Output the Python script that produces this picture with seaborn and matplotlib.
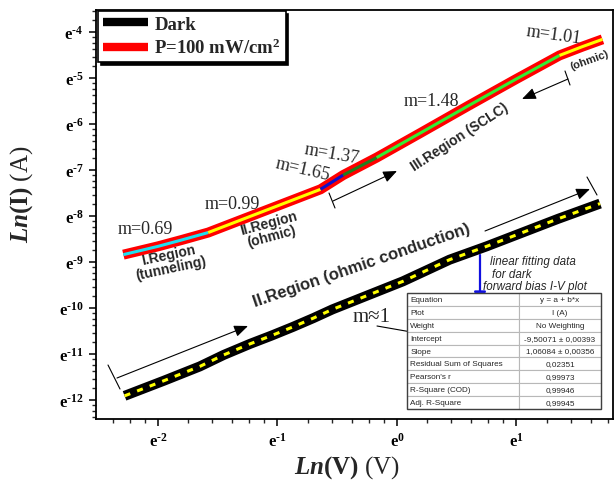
import numpy as np
import pandas as pd
import seaborn as sns
import matplotlib.pyplot as plt
from matplotlib.lines import Line2D
from matplotlib.patches import Rectangle

# ---- data (natural-log units) ----
dark_lnv = [-2.28, -1.95, -1.65, -1.45, -1.23, -1.05, -0.87, -0.70, -0.54, -0.25,
            0.05, 0.44, 0.75, 1.03, 1.35, 1.70]
dark_lni = [-11.91, -11.58, -11.27, -11.02, -10.78, -10.60, -10.41, -10.22, -10.03, -9.73,
            -9.42, -8.95, -8.66, -8.38, -8.06, -7.73]

# illuminated curve, one list per fitted region
r1_lnv = [-2.29, -2.00, -1.80, -1.58]
r1_lni = [-8.84, -8.66, -8.52, -8.36]
r2_lnv = [-1.58, -1.30, -1.00, -0.80, -0.64]
r2_lni = [-8.36, -8.08, -7.78, -7.58, -7.42]
r3a_lnv = [-0.64, -0.45]
r3a_lni = [-7.42, -7.11]
r3b_lnv = [-0.45, -0.17]
r3b_lni = [-7.11, -6.73]
r3c_lnv = [-0.17, 0.20, 0.60, 1.00, 1.36]
r3c_lni = [-6.73, -6.19, -5.60, -5.02, -4.51]
r4_lnv = [1.36, 1.55, 1.72]
r4_lni = [-4.51, -4.32, -4.16]

regions = ['I', 'II', 'IIIa', 'IIIb', 'IIIc', 'IV']
region_colors = {'I': '#1ee0f0', 'II': '#ffff00', 'IIIa': '#1010c8',
                 'IIIb': '#1f7f1f', 'IIIc': '#33ee33', 'IV': '#ffff00'}

fit_names = ['Equation', 'Plot', 'Weight', 'Intercept', 'Slope',
             'Residual Sum of Squares', "Pearson's r", 'R-Square (COD)', 'Adj. R-Square']
fit_values = ['y = a + b*x', 'I (A)', 'No Weighting', '-9,50071 ± 0,00393',
              '1,06084 ± 0,00356', '0,02351', '0,99973', '0,99946', '0,99945']

x_major = [-2, -1, 0, 1]
y_major = list(range(-12, -3))

dark = pd.DataFrame({'lnv': dark_lnv, 'lni': dark_lni})
photo = pd.concat([
    pd.DataFrame({'lnv': v, 'lni': i, 'region': r})
    for v, i, r in zip([r1_lnv, r2_lnv, r3a_lnv, r3b_lnv, r3c_lnv, r4_lnv],
                       [r1_lni, r2_lni, r3a_lni, r3b_lni, r3c_lni, r4_lni], regions)
], ignore_index=True)

# ---- style ----
sns.set_style('ticks')
plt.rcParams['font.family'] = ['Liberation Serif', 'DejaVu Serif']
plt.rcParams['mathtext.fontset'] = 'custom'
plt.rcParams['mathtext.rm'] = 'Liberation Serif'
plt.rcParams['mathtext.bf'] = 'Liberation Serif:bold'
plt.rcParams['mathtext.it'] = 'Liberation Serif:italic'
plt.rcParams['mathtext.bfit'] = 'Liberation Serif:italic:bold'

W, H = 616, 489
fig = plt.figure(figsize=(W / 100, H / 100), dpi=100)
ax = fig.add_axes([96 / W, 1 - 420 / H, 517 / W, 409 / H])


def fp(x, y):
    return (x / W, 1 - y / H)


def elabel(n):
    if n < 0:
        return r'$\mathbf{e^{\text{-}%d}}$' % (-n)
    return r'$\mathbf{e^{%d}}$' % n


# curves
sns.lineplot(data=dark, x='lnv', y='lni', sort=False, estimator=None, color='black',
             lw=7.2, ax=ax, legend=False, solid_capstyle='butt')
sns.lineplot(data=dark, x='lnv', y='lni', sort=False, estimator=None, color='#ffff00',
             lw=2.2, ax=ax, legend=False, linestyle=(0, (2.0, 2.4)))
sns.lineplot(data=photo, x='lnv', y='lni', sort=False, estimator=None, color='#ff0000',
             lw=7.2, ax=ax, legend=False, solid_capstyle='butt')
sns.lineplot(data=photo, x='lnv', y='lni', hue='region', units='region', sort=False,
             estimator=None, palette=region_colors, lw=2.2, ax=ax, legend=False,
             solid_capstyle='butt')

# axes
ax.set_xlabel('')
ax.set_ylabel('')
ax.set_xticks(x_major)
ax.set_xticklabels([elabel(v) for v in x_major], fontsize=12)
ax.set_yticks(y_major)
ax.set_yticklabels([elabel(v) for v in y_major], fontsize=12)
subs = np.log(1 + np.arange(1, 6) * (np.e - 1) / 6)
ax.set_xticks([n + s for n in range(-3, 2) for s in subs], minor=True)
ax.set_yticks([n + s for n in range(-13, -3) for s in subs], minor=True)
ax.set_xlim(-2.519, 1.808)
ax.set_ylim(-12.413, -3.522)
ax.tick_params(which='major', direction='out', length=5, width=1.1, pad=4, colors='black')
ax.tick_params(which='minor', direction='out', length=3, width=1.0)
ax.tick_params(axis='x', which='major', pad=4)
for s in ax.spines.values():
    s.set_visible(True)
    s.set_linewidth(1.3)
    s.set_color('black')

fig.text(*fp(347, 468), r'$\mathbfit{Ln}\mathbf{(V)}\ \mathrm{(V)}$', ha='center',
         va='center', fontsize=18)
fig.text(*fp(22, 194), r'$\mathbfit{Ln}\mathbf{(I)}\ \mathrm{(A)}$', ha='center',
         va='center', fontsize=18, rotation=90)

# legend
handles = [Line2D([], [], color='black', lw=6, solid_capstyle='butt'),
           Line2D([], [], color='#ff0000', lw=6, solid_capstyle='butt')]
leg = ax.legend(handles, ['Dark', 'P=100 mW/cm$^\\mathbf{2}$'], loc='upper left',
                bbox_to_anchor=(0.004, 0.997), borderaxespad=0, handlelength=2.4,
                frameon=True, fancybox=False, shadow={'color': 'black', 'alpha': 1},
                prop={'weight': 'bold', 'size': 13.5}, borderpad=0.25, labelspacing=0.25,
                handletextpad=0.35)
leg.get_frame().set_edgecolor('black')
leg.get_frame().set_linewidth(1.2)
leg.get_frame().set_alpha(1)

# slope labels
for (x, y), txt, rot in [((145, 229), 'm=0.69', 0), ((232, 205), 'm=0.99', 0),
                         ((303, 170), 'm=1.65', -13), ((332, 154), 'm=1.37', -10),
                         ((431, 101), 'm=1.48', 0), ((554, 35), 'm=1.01', -8)]:
    fig.text(*fp(x, y), txt, ha='center', va='center', fontsize=13, rotation=rot)
fig.text(*fp(372, 318), 'm≈1', ha='center', va='center', fontsize=15)

sans = 'Liberation Sans'
for (x, y), txt, rot, fs in [((170, 262), 'I.Region\n(tunneling)', 12, 10),
                             ((270, 230), 'II.Region\n(ohmic)', 15, 10),
                             ((460, 137), 'III.Region (SCLC)', 33, 10),
                             ((590, 60), '(ohmic)', 20, 8),
                             ((362, 266), 'II.Region (ohmic conduction)', 19, 12)]:
    fig.text(*fp(x, y), txt, ha='center', va='center', fontsize=fs, rotation=rot,
             family=sans, weight='bold', multialignment='center', linespacing=1.0)

fig.text(*fp(490, 262), 'linear fitting data', ha='left', va='center', fontsize=8.4,
         family=sans, style='italic')
fig.text(*fp(492, 275), 'for dark', ha='left', va='center', fontsize=8.4,
         family=sans, style='italic')
fig.text(*fp(483, 287), 'forward bias I-V plot', ha='left', va='center', fontsize=8.4,
         family=sans, style='italic')


def arrow(tail, head, color='black', lw=0.8):
    ax.annotate('', xy=fp(*head), xytext=fp(*tail), xycoords='figure fraction',
                textcoords='figure fraction',
                arrowprops=dict(arrowstyle='-|>,head_length=0.6,head_width=0.25',
                                color=color, lw=lw, shrinkA=0, shrinkB=0,
                                mutation_scale=14))


def bar(p1, p2):
    fig.add_artist(Line2D([p1[0] / W, p2[0] / W], [1 - p1[1] / H, 1 - p2[1] / H],
                          transform=fig.transFigure, color='black', lw=0.8))


arrow((333, 202), (397, 172))
bar((329, 194), (335, 209))
arrow((568, 80), (522, 100))
bar((565, 72), (570, 86))
arrow((117, 379), (248, 327))
bar((108, 366), (120, 390))
arrow((485, 232), (590, 190))
bar((587, 178), (597, 196))
arrow((480, 256), (480, 307), color='#1010e0', lw=1.6)
arrow((377, 327), (520, 352))

# fit table
tab = ax.table(cellText=[[a, b] for a, b in zip(fit_names, fit_values)],
               cellLoc='center', colWidths=[112, 82],
               bbox=[(407 - 96) / 517, (420 - 410) / 409, 194 / 517, 116 / 409])
tab.auto_set_font_size(False)
tab.set_fontsize(5.9)
for (r, c), cell in tab.get_celld().items():
    cell.set_edgecolor('#b8b8b8')
    cell.set_linewidth(0.8)
    cell.get_text().set_family(sans)
    if c == 0:
        cell.get_text().set_horizontalalignment('left')
        cell.PAD = 0.03
tab.set_zorder(5)
ax.add_patch(Rectangle(((407 - 96) / 517, (420 - 410) / 409), 194 / 517, 116 / 409,
                       transform=ax.transAxes, fill=False, edgecolor='#404040', lw=1.0,
                       zorder=6))

fig.savefig('out.png', dpi=100)
